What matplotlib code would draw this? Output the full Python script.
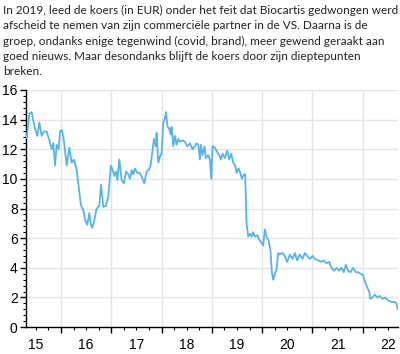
import matplotlib
matplotlib.use("Agg")
import matplotlib.pyplot as plt
import matplotlib.transforms as mtransforms
from matplotlib.ticker import MultipleLocator

jaren = [
    2015.318, 2015.371, 2015.417, 2015.450, 2015.483, 2015.530, 2015.570, 2015.616,
    2015.662, 2015.715, 2015.768, 2015.815, 2015.848, 2015.881, 2015.914, 2015.954,
    2015.980, 2016.020, 2016.060, 2016.113, 2016.166, 2016.212, 2016.258, 2016.311,
    2016.358, 2016.397, 2016.444, 2016.483, 2016.523, 2016.563, 2016.589, 2016.623,
    2016.662, 2016.709, 2016.762, 2016.795, 2016.841, 2016.894, 2016.940, 2016.993,
    2017.026, 2017.060, 2017.093, 2017.119, 2017.159, 2017.205, 2017.252, 2017.291,
    2017.338, 2017.371, 2017.404, 2017.437, 2017.470, 2017.517, 2017.570, 2017.623,
    2017.656, 2017.702, 2017.748, 2017.781, 2017.821, 2017.848, 2017.881, 2017.901,
    2017.934, 2017.967, 2018.000, 2018.033, 2018.066, 2018.086, 2018.119, 2018.152,
    2018.179, 2018.199, 2018.232, 2018.265, 2018.298, 2018.331, 2018.364, 2018.417,
    2018.464, 2018.510, 2018.563, 2018.616, 2018.662, 2018.695, 2018.728, 2018.762,
    2018.781, 2018.815, 2018.854, 2018.881, 2018.927, 2018.960, 2018.987, 2019.013,
    2019.060, 2019.106, 2019.146, 2019.179, 2019.212, 2019.258, 2019.305, 2019.344,
    2019.384, 2019.424, 2019.464, 2019.490, 2019.530, 2019.556, 2019.596, 2019.636,
    2019.662, 2019.675, 2019.689, 2019.722, 2019.755, 2019.788, 2019.821, 2019.854,
    2019.901, 2019.940, 2019.987, 2020.020, 2020.053, 2020.086, 2020.132, 2020.166,
    2020.192, 2020.219, 2020.252, 2020.285, 2020.318, 2020.351, 2020.404, 2020.450,
    2020.497, 2020.550, 2020.603, 2020.649, 2020.695, 2020.748, 2020.801, 2020.848,
    2020.894, 2020.947, 2021.000, 2021.046, 2021.113, 2021.179, 2021.225, 2021.278,
    2021.331, 2021.377, 2021.424, 2021.477, 2021.530, 2021.576, 2021.623, 2021.662,
    2021.709, 2021.755, 2021.808, 2021.861, 2021.907, 2021.954, 2022.007, 2022.040,
    2022.086, 2022.126, 2022.152, 2022.192, 2022.238, 2022.285, 2022.338, 2022.391,
    2022.444, 2022.503, 2022.570, 2022.636, 2022.669, 2022.695,
]
koers = [
    12.75, 14.4, 14.5, 13.9, 13.4, 12.9, 13.8, 12.9,
    13.2, 13.2, 12.6, 12.0, 12.4, 10.9, 12.3, 12.0,
    13.2, 13.3, 12.5, 10.9, 12.1, 11.1, 11.3, 10.6,
    9.3, 8.2, 7.9, 7.2, 6.9, 7.7, 7.0, 6.7,
    7.2, 8.0, 8.2, 9.6, 8.1, 8.2, 8.8, 10.9,
    10.6, 10.2, 10.5, 9.9, 11.3, 9.9, 9.7, 10.5,
    10.3, 10.0, 10.6, 10.3, 10.7, 10.4, 10.4, 10.0,
    9.7, 10.5, 10.6, 10.9, 12.0, 12.7, 12.2, 13.1,
    11.1, 11.5, 11.7, 13.8, 14.1, 14.5, 13.5, 13.4,
    13.0, 13.5, 12.2, 12.9, 12.3, 12.7, 12.5, 12.6,
    12.5, 12.2, 12.4, 12.0, 12.2, 12.4, 12.3, 11.3,
    12.3, 11.6, 12.2, 11.4, 11.6, 11.3, 10.0, 12.2,
    12.1, 11.8, 11.6, 11.3, 11.7, 11.4, 11.9, 11.3,
    11.7, 11.1, 10.9, 10.4, 10.7, 10.5, 10.0, 10.3,
    10.3, 8.8, 7.0, 6.1, 6.3, 6.1, 6.4, 6.1,
    6.2, 5.9, 5.7, 5.5, 6.6, 6.1, 5.8, 5.1,
    3.7, 3.2, 3.6, 3.9, 5.0, 4.9, 5.0, 4.8,
    4.4, 4.9, 4.6, 5.0, 4.5, 4.9, 4.6, 5.0,
    4.8, 4.6, 4.8, 4.6, 4.5, 4.4, 4.5, 4.3,
    4.4, 4.0, 3.8, 4.0, 3.8, 4.0, 3.7, 4.2,
    3.8, 3.7, 4.0, 3.7, 3.7, 3.6, 3.5, 3.1,
    2.7, 2.4, 1.9, 2.0, 2.2, 2.0, 2.1, 1.9,
    2.0, 1.8, 1.7, 1.7, 1.6, 1.2,
]
jaar_labels = ["15", "16", "17", "18", "19", "20", "21", "22"]

titel = ("In 2019, leed de koers (in EUR) onder het feit dat Biocartis gedwongen werd\n"
         "afscheid te nemen van zijn commerciële partner in de VS. Daarna is de\n"
         "groep, ondanks enige tegenwind (covid, brand), meer gewend geraakt aan\n"
         "goed nieuws. Maar desondanks blijft de koers door zijn dieptepunten\n"
         "breken.")

plt.rcParams["font.family"] = ["Liberation Sans", "DejaVu Sans"]

fig = plt.figure(figsize=(4.0, 3.54), dpi=100)
ax = fig.add_axes([0.065, 0.076, 0.93, 0.670])

fig.text(0.008, 0.985, titel, ha="left", va="top", fontsize=8.5,
         linespacing=1.45, color="#222222", family=["Lato", "DejaVu Sans"])

ax.plot(jaren, koers, color="#55b4ea", linewidth=1.3, zorder=3)

ax.set_xlim(2015.304, 2022.70)
ax.set_ylim(0, 16)

# assen en raster
for s in ("top", "right"):
    ax.spines[s].set_visible(False)
ax.spines["left"].set_linewidth(1.0)
ax.spines["bottom"].set_linewidth(1.0)

ax.set_yticks(range(0, 17, 2))
ax.yaxis.set_minor_locator(MultipleLocator(0.4))
ax.set_xticks(range(2016, 2023))
ax.set_xticklabels([])
ax.xaxis.set_minor_locator(MultipleLocator(0.25))
ax.tick_params(axis="both", which="major", length=4, width=1, labelsize=10)
ax.tick_params(axis="both", which="minor", length=2, width=0.8)
ax.tick_params(axis="y", pad=2)
ax.grid(True, which="major", color="#e4e4e4", linewidth=1.0, zorder=0)
ax.set_axisbelow(True)

# jaarlabels midden in het jaar
trans = mtransforms.blended_transform_factory(ax.transData, ax.transAxes)
for i, lab in enumerate(jaar_labels):
    ax.text(2015.5 + i, -0.045, lab, transform=trans, ha="center", va="top",
            fontsize=10)

fig.savefig("out.png", dpi=100)
